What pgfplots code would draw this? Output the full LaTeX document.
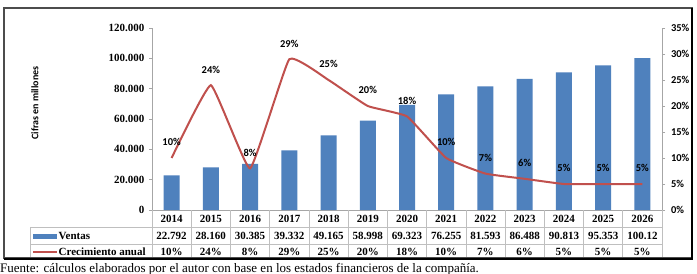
\documentclass[border=0pt]{standalone}
\usepackage{pgfplots}
\pgfplotsset{compat=1.18}
\usepackage{pgfplotstable}
\usepackage{fontspec}
\setmainfont{Liberation Serif}
\newfontfamily\calibri{Carlito}
\definecolor{barblue}{HTML}{4F81BD}
\definecolor{linered}{HTML}{C0504D}
\definecolor{gridgray}{HTML}{BFBFBF}
\definecolor{axisgray}{HTML}{A6A6A6}

% Ventas (millones) y crecimiento anual (%)
\pgfplotstableread{
x year ventas crec
0  2014 22792  10
1  2015 28160  24
2  2016 30385  8
3  2017 39332  29
4  2018 49165  25
5  2019 58998  20
6  2020 69323  18
7  2021 76255  10
8  2022 81593  7
9  2023 86488  6
10 2024 90813  5
11 2025 95353  5
12 2026 100120 5
}\datos

\pgfplotsset{
  common/.style={
    at={(152bp,-210bp)}, anchor=south west,
    scale only axis, width=510bp, height=182bp,
    xmin=-0.5, xmax=12.5,
    axis line style={draw=axisgray, line width=0.6bp},
    tick align=outside, major tick length=3bp,
    tick style={draw=axisgray, line width=0.6bp},
    xtick=\empty,
  }
}

\begin{document}
\begin{tikzpicture}
\useasboundingbox (0,0) rectangle (697bp,-274bp);
\clip (0,0) rectangle (697bp,-274bp);
\fill[white] (0,0) rectangle (697bp,-274bp);

% Barras: ventas
\begin{axis}[common,
  ymin=0, ymax=120000,
  axis y line*=left, axis x line*=bottom,
  ytick={0,20000,...,120000},
  scaled y ticks=false,
  y tick label style={font=\fontsize{11bp}{13bp}\selectfont\bfseries, xshift=-1bp,
    /pgf/number format/.cd, fixed, 1000 sep={.}, assume math mode=true},
]
\addplot[ybar, bar width=16bp, fill=barblue, draw=none] table[x=x, y=ventas]{\datos};
\end{axis}

% Linea: crecimiento anual
\begin{axis}[common,
  ymin=0, ymax=35,
  axis y line*=right, axis x line=none,
  ytick={0,5,...,35},
  yticklabel={\pgfmathprintnumber{\tick}\%},
  y tick label style={font=\calibri\bfseries\fontsize{10.5bp}{12bp}\selectfont, xshift=2.5bp,
    /pgf/number format/.cd, fixed, assume math mode=true},
  clip=false,
]
\addplot[linered, line width=2bp, smooth, tension=0.2, mark=none,
  nodes near coords={\pgfmathprintnumber{\pgfplotspointmeta}\%},
  every node near coord/.append style={font=\calibri\bfseries\fontsize{10.5bp}{12bp}\selectfont,
    text=black, inner sep=0pt, yshift=11bp,
    /pgf/number format/.cd, fixed, assume math mode=true},
] table[x=x, y=crec]{\datos};
\end{axis}

\begin{scope}[x=1bp, y=-1bp]
  % tabla de datos
  \draw[gridgray, line width=0.6bp] (30,227) -- (662,227) (30,244) -- (662,244) (30,258) -- (662,258)
    (30,227) -- (30,258);
  \foreach \k in {0,...,13}
    \draw[gridgray, line width=0.6bp] ({152+\k*510/13},210) -- ({152+\k*510/13},258);
  \foreach \yr/\v/\c [count=\i from 0] in {2014/22.792/10, 2015/28.160/24, 2016/30.385/8,
      2017/39.332/29, 2018/49.165/25, 2019/58.998/20, 2020/69.323/18, 2021/76.255/10,
      2022/81.593/7, 2023/86.488/6, 2024/90.813/5, 2025/95.353/5, 2026/100.12/5} {
    \begin{scope}[font=\fontsize{11bp}{13bp}\selectfont\bfseries, inner sep=0pt]
      \node at ({152+(\i+0.5)*510/13},218.5) {\yr};
      \node at ({152+(\i+0.5)*510/13},235.5) {\v};
      \node at ({152+(\i+0.5)*510/13},251.5) {\c\%};
    \end{scope}
  }
  % leyenda en la tabla
  \fill[barblue] (33,233.5) rectangle (57,238.5);
  \draw[linered, line width=1.5bp] (33,252) -- (57,252);
  \node[anchor=west, inner sep=0pt, font=\fontsize{11bp}{13bp}\selectfont\bfseries] at (58.5,235.5) {Ventas};
  \node[anchor=west, inner sep=0pt, font=\fontsize{11bp}{13bp}\selectfont\bfseries] at (58.5,251.5) {Crecimiento anual};

  % titulo del eje
  \node[rotate=90, font=\calibri\bfseries\fontsize{10bp}{12bp}\selectfont] at (35,103) {Cifras en millones};

  % marco del grafico
  \draw[gray!60!black, line width=1.2bp] (4,8) rectangle (692,258);
  \draw[black, line width=2bp] (692,8) -- (692,259) -- (4,259);

  % fuente
  \node[anchor=base west, inner sep=0pt, font=\fontsize{13bp}{15bp}\selectfont] at (0,272)
    {Fuente: cálculos elaborados por el autor con base en los estados financieros de la compañía.};
\end{scope}
\end{tikzpicture}
\end{document}
